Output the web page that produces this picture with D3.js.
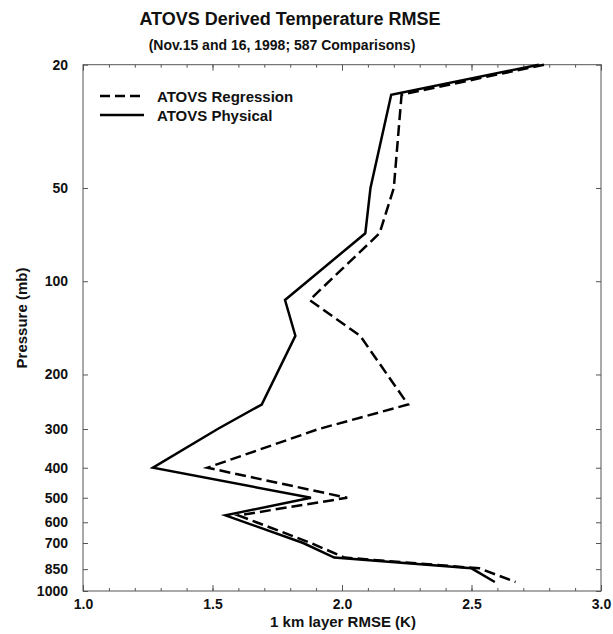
<!DOCTYPE html>
<html>
<head>
<meta charset="utf-8">
<script src="https://cdn.jsdelivr.net/npm/d3@7"></script>
<style>
  body { margin: 0; background: #fff; }
  text { font-family: "Liberation Sans", Arial, Helvetica, sans-serif; font-weight: bold; fill: #111; }
</style>
</head>
<body>
<div id="chart"></div>
<script>
// data
var pressure   = [20, 25, 50, 70, 115, 150, 250, 300, 400, 500, 570, 700, 780, 845, 935];
var regression = [2.78, 2.23, 2.20, 2.145, 1.875, 2.07, 2.255, 1.91, 1.48, 2.02, 1.60, 1.88, 2.01, 2.53, 2.67];
var physical   = [2.76, 2.19, 2.11, 2.09, 1.78, 1.82, 1.69, 1.52, 1.27, 1.88, 1.55, 1.85, 1.97, 2.50, 2.59];
var yTicks = [20, 50, 100, 200, 300, 400, 500, 600, 700, 850, 1000];
var xTicks = [1.0, 1.5, 2.0, 2.5, 3.0];
var xMinor = d3.range(10, 31).map(function(d) { return d / 10; });
var seriesNames = ["ATOVS Regression", "ATOVS Physical"];

function init() {
  var W = 613, H = 634;
  var left = 83, right = 601, top = 64.7, bottom = 591;

  var svg = d3.select("#chart")
    .append("svg")
    .attr("width", W)
    .attr("height", H);

  var x = d3.scaleLinear().domain([1, 3]).range([left, right]);
  var y = d3.scaleLog().domain([20, 1000]).range([top, bottom]);

  // titles
  svg.append("text")
    .attr("x", 290).attr("y", 25)
    .attr("text-anchor", "middle")
    .style("font-size", "18px")
    .text("ATOVS Derived Temperature RMSE");
  svg.append("text")
    .attr("x", 282).attr("y", 50)
    .attr("text-anchor", "middle")
    .style("font-size", "14px")
    .text("(Nov.15 and 16, 1998; 587 Comparisons)");

  // minor ticks bottom/top
  svg.append("g")
    .attr("transform", "translate(0," + bottom + ")")
    .call(d3.axisBottom(x).tickValues(xMinor).tickSize(-3).tickFormat(""));
  svg.append("g")
    .attr("transform", "translate(0," + top + ")")
    .call(d3.axisTop(x).tickValues(xMinor).tickSize(-3).tickFormat(""));

  // major x ticks
  var xAxis = svg.append("g")
    .attr("transform", "translate(0," + bottom + ")")
    .call(d3.axisBottom(x).tickValues(xTicks).tickSize(-6).tickPadding(8).tickFormat(d3.format(".1f")));
  xAxis.selectAll("text").style("font-size", "14px");
  svg.append("g")
    .attr("transform", "translate(0," + top + ")")
    .call(d3.axisTop(x).tickValues(xTicks).tickSize(-6).tickFormat(""));

  // y ticks
  var yAxis = svg.append("g")
    .attr("transform", "translate(" + left + ",0)")
    .call(d3.axisLeft(y).tickValues(yTicks).tickSize(-5).tickPadding(15).tickFormat(d3.format("d")));
  yAxis.selectAll("text").style("font-size", "14px");
  svg.append("g")
    .attr("transform", "translate(" + right + ",0)")
    .call(d3.axisRight(y).tickValues(yTicks).tickSize(-5).tickFormat(""));

  svg.selectAll(".domain").remove();
  svg.selectAll(".tick line").attr("stroke", "#555");

  // frame
  svg.append("rect")
    .attr("x", left).attr("y", top)
    .attr("width", right - left).attr("height", bottom - top)
    .attr("fill", "none")
    .attr("stroke", "#555")
    .attr("stroke-width", 1);

  // axis titles
  svg.append("text")
    .attr("x", 343).attr("y", 627)
    .attr("text-anchor", "middle")
    .style("font-size", "15px")
    .text("1 km layer RMSE (K)");
  svg.append("text")
    .attr("text-anchor", "middle")
    .attr("transform", "translate(27,318)rotate(-90)")
    .style("font-size", "15px")
    .text("Pressure (mb)");

  // lines
  var line = d3.line()
    .x(function(d) { return x(d[0]); })
    .y(function(d) { return y(d[1]); });

  var regData = pressure.map(function(p, i) { return [regression[i], p]; });
  var phyData = pressure.map(function(p, i) { return [physical[i], p]; });

  svg.append("path")
    .datum(regData)
    .attr("d", line)
    .attr("fill", "none")
    .attr("stroke", "#000")
    .attr("stroke-width", 2.5)
    .attr("stroke-dasharray", "11,5");
  svg.append("path")
    .datum(phyData)
    .attr("d", line)
    .attr("fill", "none")
    .attr("stroke", "#000")
    .attr("stroke-width", 2.5);

  // legend
  var legend = svg.append("g");
  var ly = [96, 115];
  legend.selectAll("line")
    .data(seriesNames)
    .enter()
    .append("line")
    .attr("x1", 100).attr("x2", 144)
    .attr("y1", function(d, i) { return ly[i]; })
    .attr("y2", function(d, i) { return ly[i]; })
    .attr("stroke", "#000")
    .attr("stroke-width", 2.5)
    .attr("stroke-dasharray", function(d, i) { return i == 0 ? "10,5" : null; });
  legend.selectAll("text")
    .data(seriesNames)
    .enter()
    .append("text")
    .attr("x", 157)
    .attr("y", function(d, i) { return ly[i] + 5.5; })
    .style("font-size", "15px")
    .text(function(d) { return d; });
}
window.onload = init;
</script>
</body>
</html>
